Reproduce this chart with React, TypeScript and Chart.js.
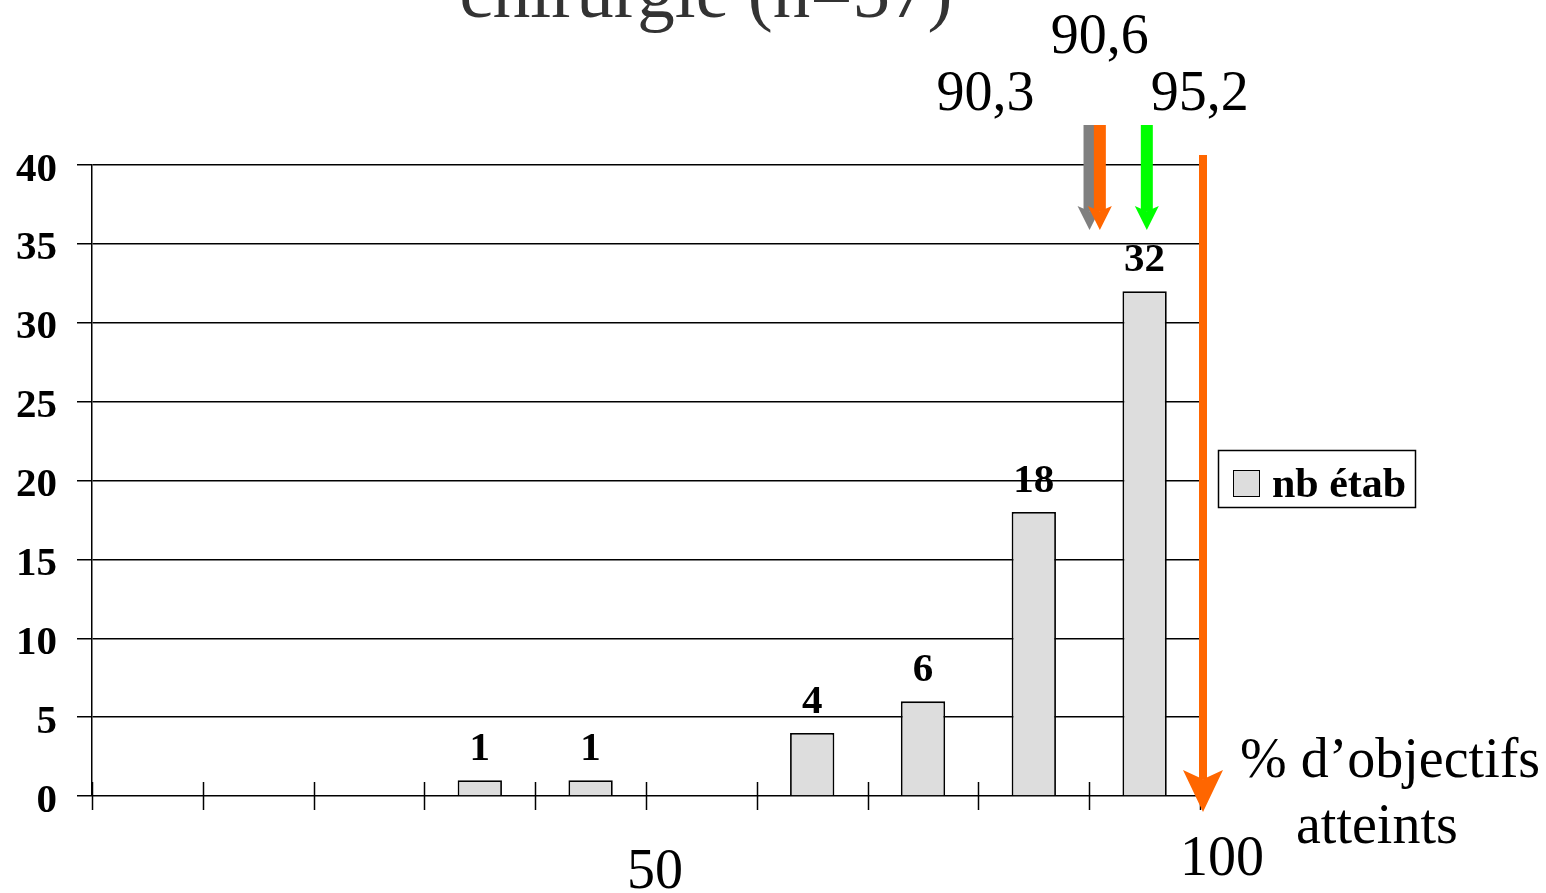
import React, { useEffect, useRef } from 'react';
import { Chart, registerables } from 'chart.js';

Chart.register(...registerables);

// ---- data ----
const binCenters = [5, 15, 25, 35, 45, 55, 65, 75, 85, 95];
const counts = [0, 0, 0, 1, 1, 0, 4, 6, 18, 32];
const seriesLabel = 'nb étab';
const yMin = 0;
const yMax = 40;
const yStep = 5;
const xMin = 0;
const xMax = 100;
const xTickStep = 10;
const xLabelValues = [50, 100];
const xLabelTexts = ['50', '100'];
const markerValues = [90.3, 90.6, 95.2];
const markerLabels = ['90,3', '90,6', '95,2'];
const targetValue = 100;
const titleText = 'chirurgie (n=57)';
const axisTitleLines = ['% d\u2019objectifs', 'atteints'];

// ---- styles ----
const SERIF = '"Liberation Serif", "Times New Roman", serif';
const markerColors = ['#808080', '#ff6600', '#00ff00'];
const markerDx = [-3, 4, 0];
const markerLabelDx = [-104, 0, 53];
const markerLabelY = [110, 53, 110];
const targetColor = '#ff6600';

const overlay = {
  id: 'overlay',
  afterDatasetsDraw(chart: any) {
    const ctx = chart.ctx as CanvasRenderingContext2D;
    const xs = chart.scales.x;
    const area = chart.chartArea;
    ctx.save();
    // x tick marks
    ctx.strokeStyle = '#000';
    ctx.lineWidth = 1.5;
    for (let v = xMin; v <= xMax; v += xTickStep) {
      const px = Math.round(xs.getPixelForValue(v)) + 0.5;
      ctx.beginPath();
      ctx.moveTo(px, area.bottom - 14);
      ctx.lineTo(px, area.bottom + 14);
      ctx.stroke();
    }
    // data labels
    const meta = chart.getDatasetMeta(0);
    ctx.fillStyle = '#000';
    ctx.font = `bold 41px ${SERIF}`;
    ctx.textAlign = 'center';
    ctx.textBaseline = 'alphabetic';
    meta.data.forEach((el: any, i: number) => {
      const v = counts[i];
      if (!v) return;
      ctx.fillText(String(v), el.x, el.y - 20);
    });
    ctx.restore();
  },
  afterDraw(chart: any) {
    const ctx = chart.ctx as CanvasRenderingContext2D;
    const xs = chart.scales.x;
    const area = chart.chartArea;
    ctx.save();

    // title (partly cut off at top)
    ctx.fillStyle = '#333333';
    ctx.font = `75px ${SERIF}`;
    ctx.textAlign = 'center';
    ctx.textBaseline = 'alphabetic';
    ctx.fillText(titleText, 706, 17);

    // x labels
    ctx.fillStyle = '#000';
    ctx.font = `56px ${SERIF}`;
    const xLabOff = [9, 22];
    const xLabY = [888, 875];
    xLabelValues.forEach((v, i) => {
      ctx.fillText(xLabelTexts[i], xs.getPixelForValue(v) + xLabOff[i], xLabY[i]);
    });

    // axis title
    ctx.textAlign = 'left';
    ctx.fillText(axisTitleLines[0], 1240, 777);
    ctx.fillText(axisTitleLines[1], 1296, 843);

    // arrows
    const drawArrow = (cx: number, top: number, tip: number, shaftW: number, headW: number, headL: number, color: string) => {
      const notch = headL * 0.22;
      ctx.fillStyle = color;
      ctx.fillRect(cx - shaftW / 2, top, shaftW, tip - headL + notch - top);
      ctx.beginPath();
      ctx.moveTo(cx - headW / 2, tip - headL);
      ctx.lineTo(cx, tip - headL + notch);
      ctx.lineTo(cx + headW / 2, tip - headL);
      ctx.lineTo(cx, tip);
      ctx.closePath();
      ctx.fill();
    };
    markerValues.forEach((v, i) => {
      const cx = xs.getPixelForValue(v) + markerDx[i];
      drawArrow(cx, area.top - 40, area.top + 65, 12, 24, 24, markerColors[i]);
    });
    drawArrow(xs.getPixelForValue(targetValue) + 3, area.top - 10, area.bottom + 16, 8, 40, 42, targetColor);

    // marker labels
    ctx.fillStyle = '#000';
    ctx.font = `56px ${SERIF}`;
    ctx.textAlign = 'center';
    markerValues.forEach((v, i) => {
      const cx = xs.getPixelForValue(v) + markerDx[i];
      ctx.fillText(markerLabels[i], cx + markerLabelDx[i], markerLabelY[i]);
    });

    // legend
    const ds = chart.data.datasets[0];
    ctx.fillStyle = '#ffffff';
    ctx.fillRect(1218, 450, 198, 58);
    ctx.strokeStyle = '#000';
    ctx.lineWidth = 1.5;
    ctx.strokeRect(1218.5, 450.5, 197, 57);
    ctx.fillStyle = ds.backgroundColor;
    ctx.fillRect(1233, 470, 27, 27);
    ctx.lineWidth = 1;
    ctx.strokeRect(1233.5, 470.5, 26, 26);
    ctx.fillStyle = '#000';
    ctx.font = `bold 42px ${SERIF}`;
    ctx.textAlign = 'left';
    ctx.fillText(ds.label, 1272, 497);

    ctx.restore();
  },
};

export default function App() {
  const ref = useRef<HTMLCanvasElement | null>(null);
  useEffect(() => {
    if (!ref.current) return;
    const chart = new Chart(ref.current, {
      type: 'bar',
      data: {
        datasets: [
          {
            label: seriesLabel,
            data: binCenters.map((x, i) => ({ x, y: counts[i] })),
            backgroundColor: '#dddddd',
            borderColor: '#000000',
            borderWidth: 1.8,
            barPercentage: 0.4,
            categoryPercentage: 1,
          } as any,
        ],
      },
      options: {
        animation: false,
        responsive: false,
        layout: { padding: { left: 0, top: 165, right: 346, bottom: 97 } },
        plugins: {
          legend: { display: false },
          tooltip: { enabled: false },
          title: { display: false },
        },
        scales: {
          x: {
            type: 'linear',
            min: xMin,
            max: xMax,
            offset: false,
            display: false,
          },
          y: {
            min: yMin,
            max: yMax,
            ticks: {
              stepSize: yStep,
              color: '#000',
              padding: 20,
              labelOffset: 5,
              font: { family: SERIF, size: 41, weight: 'bold' },
            },
            grid: { color: '#000', lineWidth: 1.5, tickLength: 15, drawTicks: true },
            border: { display: true, color: '#000', width: 1.5 },
            afterFit: (scale: any) => {
              scale.width = 92;
            },
          },
        },
      } as any,
      plugins: [overlay],
    });
    return () => chart.destroy();
  }, []);
  return (
    <div style={{ position: 'absolute', left: 0, top: 0, width: 1546, height: 893, background: '#fff' }}>
      <canvas ref={ref} width={1546} height={893} style={{ display: 'block' }} />
    </div>
  );
}
